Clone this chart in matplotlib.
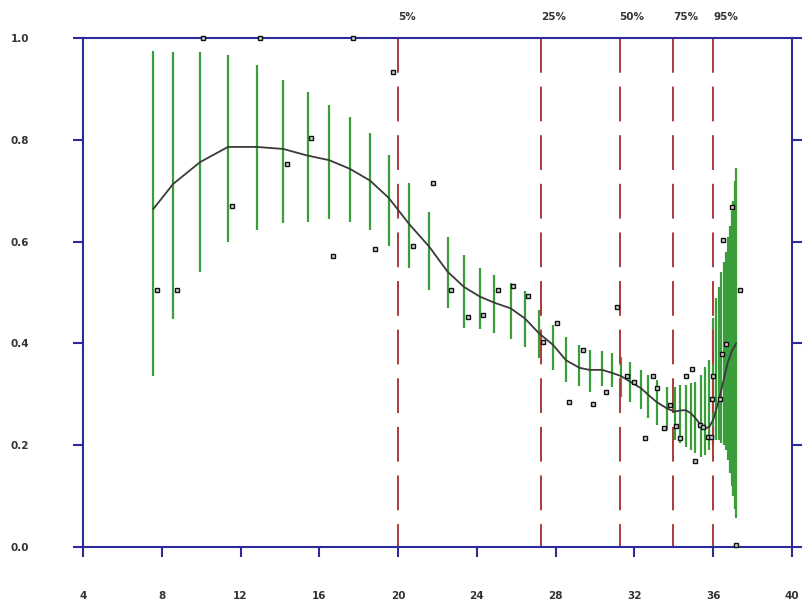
import numpy as np
import matplotlib
matplotlib.use("Agg")
import matplotlib.pyplot as plt
from matplotlib.transforms import blended_transform_factory

# error bar positions with lower / upper limits
bar_x = [7.57, 8.57, 9.94, 11.36, 12.82, 14.17, 15.4, 16.5, 17.55, 18.57, 19.52, 20.55,
         21.58, 22.51, 23.34, 24.15, 24.88, 25.71, 26.44, 27.15, 27.87, 28.52, 29.21, 29.72,
         30.36, 30.87, 31.31, 31.77, 32.33, 32.7, 33.12, 33.66, 34.05, 34.3, 34.6, 34.86,
         35.1, 35.36, 35.6, 35.8, 36.0, 36.15, 36.3, 36.42, 36.54, 36.66, 36.76, 36.86,
         36.94, 37.02, 37.1, 37.16]
bar_lo = [0.336, 0.448, 0.540, 0.599, 0.623, 0.636, 0.639, 0.644, 0.639, 0.623, 0.592, 0.548,
          0.505, 0.469, 0.430, 0.428, 0.420, 0.408, 0.392, 0.371, 0.348, 0.325, 0.316, 0.305,
          0.316, 0.314, 0.295, 0.285, 0.272, 0.253, 0.240, 0.230, 0.210, 0.204, 0.197, 0.191,
          0.184, 0.177, 0.181, 0.191, 0.200, 0.210, 0.210, 0.205, 0.200, 0.190, 0.170, 0.145,
          0.120, 0.100, 0.075, 0.057]
bar_hi = [0.975, 0.973, 0.973, 0.967, 0.946, 0.917, 0.894, 0.869, 0.845, 0.814, 0.770, 0.715,
          0.659, 0.610, 0.574, 0.549, 0.534, 0.518, 0.502, 0.466, 0.436, 0.413, 0.397, 0.388,
          0.386, 0.382, 0.374, 0.364, 0.348, 0.338, 0.328, 0.314, 0.314, 0.318, 0.318, 0.322,
          0.325, 0.338, 0.354, 0.367, 0.450, 0.490, 0.510, 0.540, 0.560, 0.580, 0.610, 0.630,
          0.660, 0.680, 0.720, 0.745]
# smoothed curve at the bar positions
fit_y = [0.664, 0.713, 0.756, 0.786, 0.786, 0.782, 0.769, 0.760, 0.743, 0.720, 0.686, 0.635,
         0.590, 0.541, 0.511, 0.492, 0.480, 0.469, 0.449, 0.420, 0.397, 0.367, 0.352, 0.348,
         0.348, 0.342, 0.336, 0.325, 0.312, 0.299, 0.285, 0.272, 0.266, 0.268, 0.269, 0.263,
         0.253, 0.240, 0.233, 0.236, 0.250, 0.270, 0.290, 0.310, 0.330, 0.350, 0.365, 0.375,
         0.385, 0.390, 0.395, 0.400]

# observed points
pt_x = [7.76, 8.77, 10.1, 11.55, 13.0, 14.34, 15.57, 16.71, 17.7, 18.81, 19.72, 20.77, 21.78,
        22.68, 23.53, 24.32, 25.07, 25.84, 26.6, 27.37, 28.08, 28.69, 29.4, 29.9, 30.55, 31.09,
        31.6, 31.97, 32.53, 32.92, 33.17, 33.49, 33.8, 34.1, 34.3, 34.64, 34.9, 35.07, 35.32,
        35.49, 35.74, 35.91, 35.96, 36.0, 36.34, 36.45, 36.5, 36.64, 36.93, 37.18, 37.35]
pt_y = [0.505, 0.505, 1.0, 0.669, 1.0, 0.752, 0.804, 0.572, 1.0, 0.585, 0.933, 0.592, 0.716,
        0.505, 0.452, 0.456, 0.505, 0.513, 0.494, 0.403, 0.441, 0.284, 0.388, 0.280, 0.305,
        0.472, 0.336, 0.325, 0.214, 0.336, 0.312, 0.233, 0.279, 0.238, 0.214, 0.336, 0.349,
        0.169, 0.240, 0.236, 0.217, 0.217, 0.291, 0.336, 0.290, 0.380, 0.604, 0.399, 0.667,
        0.004, 0.505]

# percentile markers
pct_x = [20.0, 27.25, 31.25, 33.95, 36.0]
pct_labels = ["5%", "25%", "50%", "75%", "95%"]

x_ticks = list(range(4, 41, 4))
y_ticks = [0.0, 0.2, 0.4, 0.6, 0.8, 1.0]

navy = "#2b2b9c"
fig = plt.figure(figsize=(8.08, 6.05), dpi=100)
ax = fig.add_axes([83 / 808, 1 - 547 / 605, (792 - 83) / 808, (547 - 38) / 605])

ax.vlines(bar_x, bar_lo, bar_hi, color="#3a9f3a", lw=1.6, zorder=2)
ax.plot(bar_x, fit_y, color="#3a3a3a", lw=1.3, zorder=3)

# dashed percentile lines: ~34 px dash, ~14 px gap
lw = 1.4
for xv in pct_x:
    ax.plot([xv, xv], [1.0, 0.0], color="#ad3a3a", lw=lw,
            linestyle=(0, (25.0 / lw, 10.0 / lw)), zorder=2.5, solid_capstyle="butt")

ax.plot(pt_x, pt_y, "s", ms=3.3, mfc="#d0d0d0", mec="#111111", mew=1.0,
        zorder=5, clip_on=False)

trans = blended_transform_factory(ax.transData, ax.transAxes)
for xv, lab in zip(pct_x, pct_labels):
    ax.text(xv, 1.041, lab, transform=trans, ha="left", va="center",
            fontsize=7.5, fontweight="bold", color="#333333")

ax.set_xlim(4, 40)
ax.set_ylim(0, 1)
ax.set_xticks(x_ticks)
ax.set_yticks(y_ticks)
ax.set_xticklabels([str(v) for v in x_ticks])
ax.set_yticklabels([f"{v:.1f}" for v in y_ticks])

for side in ["left", "right", "top", "bottom"]:
    ax.spines[side].set_color(navy)
    ax.spines[side].set_linewidth(1.5)

ax.tick_params(axis="both", colors=navy, width=1.5, length=7, direction="out",
               labelcolor="#333333", labelsize=7.5)
ax.tick_params(axis="y", left=True, right=True, labelright=False, pad=32)
ax.tick_params(axis="x", top=False, pad=25)
for lab in ax.get_xticklabels() + ax.get_yticklabels():
    lab.set_fontweight("bold")

fig.savefig("out.png", dpi=100)
